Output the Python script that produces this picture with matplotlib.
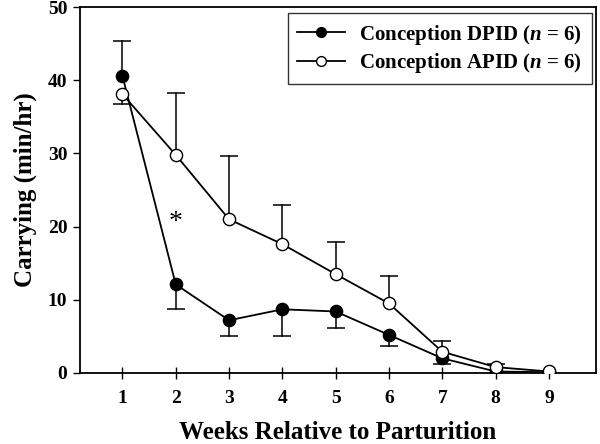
import matplotlib
matplotlib.use("Agg")
import matplotlib.pyplot as plt

# Data
weeks = [1, 2, 3, 4, 5, 6, 7, 8, 9]
dpid_mean = [40.6, 12.1, 7.2, 8.7, 8.4, 5.2, 2.0, 0.2, 0.1]
dpid_err_up = [4.8, 0, 0, 0, 0, 0, 0, 0, 0]
dpid_err_down = [0, 3.3, 2.1, 3.7, 2.2, 1.5, 0.8, 0, 0]
apid_mean = [38.1, 29.8, 21.0, 17.6, 13.5, 9.5, 2.9, 0.8, 0.2]
apid_err_up = [0, 8.4, 8.6, 5.4, 4.4, 3.8, 1.5, 0.4, 0]
apid_err_down = [1.3, 0, 0, 0, 0, 0, 0, 0, 0]
labels = [r"Conception DPID ($\mathit{n}$ = 6)", r"Conception APID ($\mathit{n}$ = 6)"]

plt.rcParams["font.family"] = "Liberation Serif"
plt.rcParams["font.weight"] = "bold"
plt.rcParams["mathtext.fontset"] = "custom"
plt.rcParams["mathtext.rm"] = "Liberation Serif:bold"
plt.rcParams["mathtext.it"] = "Liberation Serif:italic:bold"


def one_sided(ax, x, y, err, sign):
    # one-direction bar with a cap only at the far end
    for xi, yi, e in zip(x, y, err):
        if e <= 0:
            continue
        end = yi + sign * e
        ax.plot([xi, xi], [yi, end], color="black", lw=1.1, zorder=2)
        ax.plot([xi], [end], marker="_", ms=13, mew=1.1, color="black", zorder=2)


def main():
    fig = plt.figure(figsize=(6, 4.44), dpi=100)
    ax = fig.add_axes([0.133, 0.16, 0.86, 0.824])

    one_sided(ax, weeks, dpid_mean, dpid_err_up, 1)
    one_sided(ax, weeks, dpid_mean, dpid_err_down, -1)
    one_sided(ax, weeks, apid_mean, apid_err_up, 1)
    one_sided(ax, weeks, apid_mean, apid_err_down, -1)

    ax.plot(weeks, dpid_mean, color="black", lw=1.3, marker="o", ms=8.8,
            mfc="black", mec="black", label=labels[0], zorder=3)
    ax.plot(weeks, apid_mean, color="black", lw=1.3, marker="o", ms=8.8,
            mfc="white", mec="black", mew=1.0, label=labels[1], zorder=4)

    ax.text(2, 20.5, "*", ha="center", va="center", fontsize=20, fontweight="normal")

    ax.set_xlim(0.2, 9.88)
    ax.set_ylim(0, 50)
    ax.set_xticks(weeks)
    ax.set_yticks(range(0, 51, 10))
    ax.tick_params(labelsize=14, width=1.0)
    ax.tick_params(axis="x", direction="inout", length=8, pad=8)
    ax.tick_params(axis="y", direction="out", length=5, pad=4)
    for s in ax.spines.values():
        s.set_linewidth(1.3)

    ax.set_xlabel("Weeks Relative to Parturition", fontsize=18, fontweight="bold", labelpad=10)
    ax.set_ylabel("Carrying (min/hr)", fontsize=18, fontweight="bold", labelpad=8)

    leg = ax.legend(loc="upper right", fontsize=15, frameon=True, fancybox=False,
                    edgecolor="black", handlelength=2.3, borderpad=0.45,
                    labelspacing=0.2, handletextpad=0.7, markerscale=0.8,
                    borderaxespad=0, bbox_to_anchor=(0.992, 0.983))
    leg.get_frame().set_linewidth(1.0)

    fig.savefig("out.png", dpi=100)


if __name__ == "__main__":
    main()
